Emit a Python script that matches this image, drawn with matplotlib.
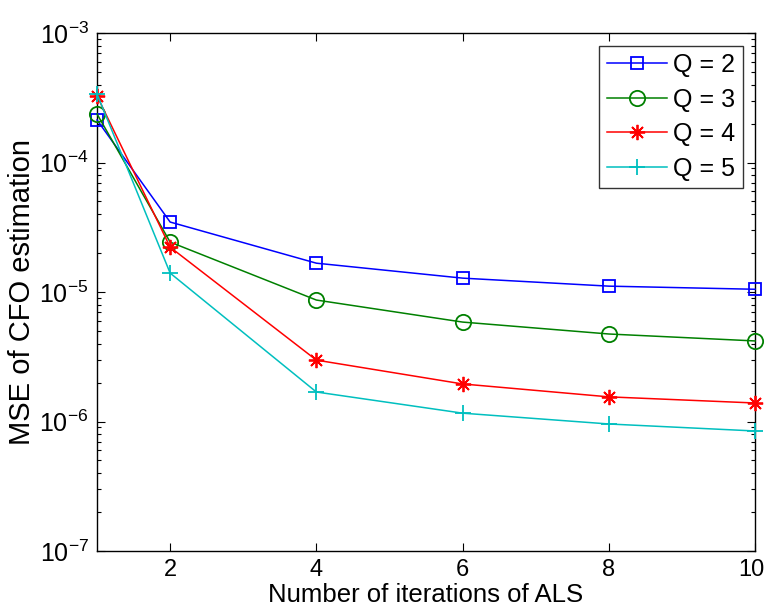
import matplotlib
matplotlib.use('Agg')
import matplotlib.pyplot as plt
import matplotlib.transforms as mtransforms
from matplotlib.ticker import LogLocator, FixedLocator
import numpy as np

plt.rcParams['font.family'] = ['Liberation Sans', 'DejaVu Sans']
plt.rcParams['mathtext.fontset'] = 'custom'
plt.rcParams['mathtext.rm'] = 'Liberation Sans'
plt.rcParams['mathtext.it'] = 'Liberation Sans'
plt.rcParams['mathtext.bf'] = 'Liberation Sans'

iterations = [1, 2, 4, 6, 8, 10]
mse_q2 = [2.13e-4, 3.47e-5, 1.67e-5, 1.28e-5, 1.11e-5, 1.05e-5]
mse_q3 = [2.37e-4, 2.43e-5, 8.67e-6, 5.86e-6, 4.74e-6, 4.19e-6]
mse_q4 = [3.27e-4, 2.22e-5, 2.98e-6, 1.95e-6, 1.55e-6, 1.39e-6]
mse_q5 = [3.38e-4, 1.40e-5, 1.69e-6, 1.16e-6, 9.57e-7, 8.45e-7]
labels = ['Q = 2', 'Q = 3', 'Q = 4', 'Q = 5']
x_ticks = [2, 4, 6, 8, 10]

fig = plt.figure(figsize=(7.67, 6.16), dpi=100)
ax = fig.add_axes([0.1265, 0.1055, 0.8579, 0.8409])

ax.semilogy(iterations, mse_q2, '-s', color='#0000ff', lw=1.1, ms=9,
            mfc='none', mew=1.3, label=labels[0], clip_on=False, zorder=3)
ax.semilogy(iterations, mse_q3, '-o', color='#008000', lw=1.1, ms=11,
            mfc='none', mew=1.3, label=labels[1], clip_on=False, zorder=3)
ax.semilogy(iterations, mse_q4, '-', marker=(8, 2, 0), color='#ff0000', lw=1.1,
            ms=11, mew=1.3, label=labels[2], clip_on=False, zorder=3)
ax.semilogy(iterations, mse_q5, '-+', color='#00bfbf', lw=1.1, ms=12,
            mew=1.3, label=labels[3], clip_on=False, zorder=3)

ax.set_xlim(1, 10)
ax.set_ylim(1e-7, 1e-3)
ax.xaxis.set_major_locator(FixedLocator(x_ticks))
ax.yaxis.set_major_locator(LogLocator(base=10, numticks=10))
ax.yaxis.set_minor_locator(LogLocator(base=10, subs=np.arange(2, 10), numticks=20))

ax.tick_params(which='both', direction='in', top=True, right=True, labelsize=18)
ax.tick_params(axis='x', labelsize=17)
ax.tick_params(which='major', length=6, width=0.8, pad=6)
ax.tick_params(which='minor', length=3, width=0.8)
for s in ax.spines.values():
    s.set_linewidth(1.0)

# keep the last x label inside the figure
fig.canvas.draw()
last = ax.get_xticklabels()[-1]
last.set_transform(last.get_transform() +
                   mtransforms.ScaledTranslation(-4 / 100, 0, fig.dpi_scale_trans))

ax.set_xlabel('Number of iterations of ALS', fontsize=18.5, labelpad=1)
ax.set_ylabel('MSE of CFO estimation', fontsize=21, labelpad=2)

leg = ax.legend(loc='upper right', fontsize=18, frameon=True, fancybox=False,
                edgecolor='black', handlelength=2.4, borderpad=0.3,
                labelspacing=0.42, handletextpad=0.25, borderaxespad=0.5)
leg.get_frame().set_linewidth(1.0)

fig.savefig('out.png', dpi=100)
